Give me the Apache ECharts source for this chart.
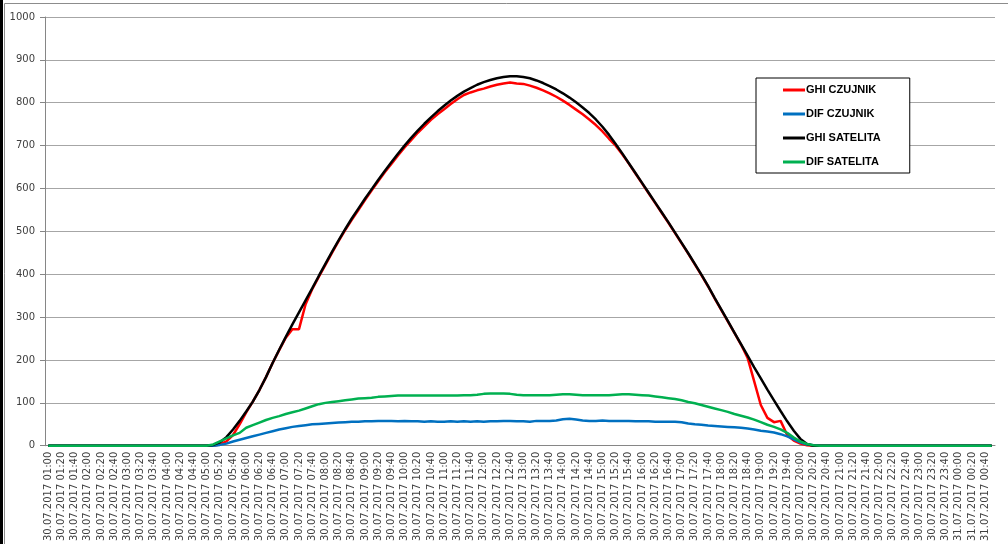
<!DOCTYPE html>
<html><head><meta charset="utf-8">
<script src="https://cdn.jsdelivr.net/npm/echarts@6/dist/echarts.min.js"></script>
<style>html,body{margin:0;padding:0;background:#fff}#c{width:1008px;height:544px}</style>
</head><body><div id="c"></div>
<script>
// Categories: 30.07.2017 01:00 .. 31.07.2017 00:50, every 10 min
const categories = [];
for (let i = 0; i < 144; i++) {
  const m = 60 + i * 10;
  const h = Math.floor(m / 60) % 24, mm = m % 60;
  const day = m >= 1440 ? '31.07.2017' : '30.07.2017';
  categories.push(day + ' ' + String(h).padStart(2, '0') + ':' + String(mm).padStart(2, '0'));
}
const yTicks = [0, 100, 200, 300, 400, 500, 600, 700, 800, 900, 1000];

const ghiCzujnik = [
0,0,0,0,0,0,0,0,0,0,0,0,0,0,0,0,0,0,0,0,0,0,0,0,
0,0,3,10,25,50,78,103,130,160,193,223,252,272,272,330,365,394,422,450,477,503,527,550,
573,595,617,638,657,677,696,713,730,745,760,773,785,797,808,818,824,829,833,838,842,845,847,845,
844,840,835,829,822,814,805,795,784,773,761,748,733,716,700,680,658,635,612,589,566,543,520,496,
472,448,423,398,372,344,317,290,263,236,205,150,95,65,55,58,25,12,5,1,0,0,0,0,
0,0,0,0,0,0,0,0,0,0,0,0,0,0,0,0,0,0,0,0,0,0,0,0];
const difCzujnik = [
0,0,0,0,0,0,0,0,0,0,0,0,0,0,0,0,0,0,0,0,0,0,0,0,
0,0,2,5,10,14,18,22,26,30,34,38,41,44,46,48,50,51,52,53,54,55,56,56,
57,57,58,58,58,57,58,57,57,56,57,56,56,57,56,57,56,57,56,57,57,58,58,57,
57,56,58,58,58,59,62,63,61,59,58,58,59,58,58,58,58,57,57,57,56,56,56,56,
55,52,50,49,47,46,45,44,43,42,40,38,35,33,31,27,22,15,8,3,1,0,0,0,
0,0,0,0,0,0,0,0,0,0,0,0,0,0,0,0,0,0,0,0,0,0,0,0];
const ghiSatelita = [
0,0,0,0,0,0,0,0,0,0,0,0,0,0,0,0,0,0,0,0,0,0,0,0,
0,2,8,20,38,58,80,103,130,160,193,224,254,283,311,339,367,396,424,452,479,505,530,553,
576,598,620,641,661,681,700,718,735,751,766,780,793,805,816,826,834,842,848,853,857,860,862,862,
860,857,852,846,839,831,822,812,801,789,776,761,744,725,704,682,659,636,613,590,567,544,521,497,
473,449,424,399,373,345,318,291,264,237,210,183,157,131,106,81,57,35,16,4,0,0,0,0,
0,0,0,0,0,0,0,0,0,0,0,0,0,0,0,0,0,0,0,0,0,0,0,0];
const difSatelita = [
0,0,0,0,0,0,0,0,0,0,0,0,0,0,0,0,0,0,0,0,0,0,0,0,
0,3,10,17,24,30,42,48,54,60,65,69,74,78,82,87,92,97,100,102,104,106,108,110,
111,112,114,115,116,117,117,117,117,117,117,117,117,117,117,118,118,119,121,122,122,122,121,119,
118,118,118,118,118,119,120,120,119,118,118,118,118,118,119,120,120,119,118,117,115,113,111,109,
106,102,99,95,91,87,83,79,74,70,66,61,55,49,44,38,30,19,10,4,1,0,0,0,
0,0,0,0,0,0,0,0,0,0,0,0,0,0,0,0,0,0,0,0,0,0,0,0];

const seriesNames = ['GHI CZUJNIK', 'DIF CZUJNIK', 'GHI SATELITA', 'DIF SATELITA'];
const seriesColors = ['#ff0000', '#0070c0', '#000000', '#00b050'];
const seriesData = [ghiCzujnik, difCzujnik, ghiSatelita, difSatelita];

const chart = echarts.init(document.getElementById('c'), null, {renderer: 'canvas'});
chart.setOption({
  animation: false,
  backgroundColor: '#fff',
  graphic: [
    {type: 'rect', left: 0, top: 0, shape: {width: 3, height: 544}, style: {fill: '#000'}},
    {type: 'line', shape: {x1: 4.5, y1: 3.5, x2: 1008, y2: 3.5}, style: {stroke: '#8c8c8c', lineWidth: 1}},
    {type: 'line', shape: {x1: 4.5, y1: 3.5, x2: 4.5, y2: 544}, style: {stroke: '#8c8c8c', lineWidth: 1}}
  ],
  grid: {left: 45, right: 13, top: 17, bottom: 98, containLabel: false},
  legend: {
    orient: 'vertical', left: 756, top: 78,
    padding: [5, 29, 4, 27], itemGap: 10,
    borderColor: '#000', borderWidth: 1, backgroundColor: '#fff',
    itemWidth: 22, itemHeight: 3, icon: 'rect',
    textStyle: {fontFamily: 'Liberation Sans', fontWeight: 'bold', fontSize: 11, color: '#000', lineHeight: 14, padding: [0, 0, 0, -4]},
    data: seriesNames
  },
  xAxis: {
    type: 'category', data: categories, boundaryGap: true,
    axisLine: {lineStyle: {color: '#868686'}},
    axisTick: {interval: 0, length: 4, lineStyle: {color: '#868686'}},
    axisLabel: {interval: 1, rotate: 90, fontFamily: 'DejaVu Sans', fontSize: 10, color: '#404040', margin: 6}
  },
  yAxis: {
    type: 'value', min: 0, max: 1000, interval: 100,
    axisLine: {show: true, lineStyle: {color: '#868686'}},
    axisTick: {show: true, length: 5, lineStyle: {color: '#868686'}},
    axisLabel: {fontFamily: 'DejaVu Sans', fontSize: 10, color: '#404040', margin: 10,
      formatter: v => yTicks.includes(v) ? String(v) : ''},
    splitLine: {lineStyle: {color: '#a6a6a6', width: 1}}
  },
  series: seriesNames.map((n, i) => ({
    name: n, type: 'line', data: seriesData[i], showSymbol: false, symbol: 'none',
    lineStyle: {color: seriesColors[i], width: 2.5}, itemStyle: {color: seriesColors[i]}
  }))
});
</script></body></html>
